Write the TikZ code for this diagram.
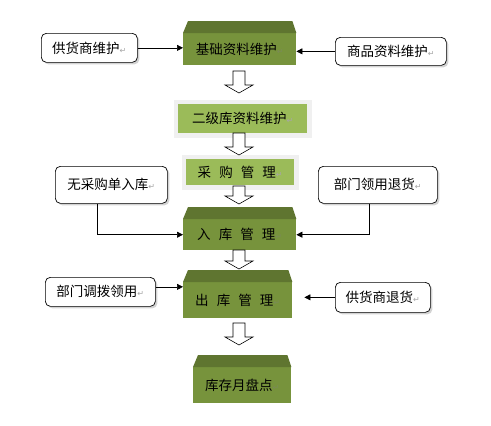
\documentclass[tikz,border=0pt]{standalone}
\usepackage{fontspec}
\newfontfamily\cjk{Noto Sans CJK SC}
\newfontfamily\dv{DejaVu Sans}
\usetikzlibrary{shadows,arrows.meta}
\definecolor{bevtop}{HTML}{5F7530}
\definecolor{bevbody}{HTML}{77933C}
\definecolor{lgreen}{HTML}{9BBB59}
\newcommand\ret{{\dv\fontsize{8}{8}\selectfont\color{gray!70}↵}}
\newcommand\retd{{\dv\fontsize{8}{8}\selectfont\color{gray!40!bevbody}↵}}
\newcommand\csp{\hspace{0.6em}}
\newcommand\harrow[3]{%
  \draw[fill=white, line width=0.6pt] (#1-6,#2) -- (#1+6,#2) -- (#1+6,#3-8) -- (#1+14,#3-8) -- (#1,#3) -- (#1-14,#3-8) -- (#1-6,#3-8) -- cycle;}
\newcommand\bevel[1]{%
  \fill[bevtop] (#1.north west) -- ([xshift=5pt,yshift=12pt]#1.north west) -- ([xshift=-4pt,yshift=12pt]#1.north east) -- (#1.north east) -- cycle;}
\begin{document}
\begin{tikzpicture}[x=1pt,y=-1pt,
  font=\cjk\fontsize{13.5}{15}\selectfont,
  bevbox/.style={fill=bevbody, inner sep=0pt, anchor=north west},
  rbox/.style={draw=black, line width=0.7pt, fill=white, rounded corners=5pt, inner sep=0pt, anchor=north west,
    drop shadow={shadow xshift=2pt, shadow yshift=-2pt, opacity=0.35}},
  lbox/.style={fill=lgreen, inner sep=0pt, anchor=north west,
    preaction={draw=gray!12, line width=9pt}},
  conn/.style={line width=0.6pt, -{Triangle[length=6pt,width=6pt]}}]
\useasboundingbox (0,0) rectangle (491,426);

% main column
\node[bevbox, minimum width=113pt, minimum height=32pt] (jc) at (183,33) {基础资料维护\retd};
\bevel{jc}
\node[lbox, minimum width=129pt, minimum height=29pt] (ej) at (178,104) {二级库资料维护\ret};
\node[lbox, minimum width=108pt, minimum height=26pt] (cg) at (186,159) {采\csp 购\csp 管\csp 理\ret};
\node[bevbox, minimum width=113pt, minimum height=31pt] (rk) at (183,219) {入\csp 库\csp 管\csp 理\retd};
\bevel{rk}
\node[bevbox, minimum width=109pt, minimum height=36pt] (ck) at (183,282) {出\csp 库\csp 管\csp 理\retd};
\bevel{ck}
\node[bevbox, minimum width=98pt, minimum height=36pt] (kc) at (193,367) {库存月盘点\retd};
\bevel{kc}

% side boxes
\node[rbox, minimum width=96pt, minimum height=29pt] (gys) at (41,33) {供货商维护\ret};
\node[rbox, minimum width=111pt, minimum height=28pt] (spzl) at (335,37) {商品资料维护\ret};
\node[rbox, minimum width=112pt, minimum height=37pt] (wcg) at (55,166) {无采购单入库\ret};
\node[rbox, minimum width=119pt, minimum height=37pt] (bm) at (318,166) {部门领用退货\ret};
\node[rbox, minimum width=110pt, minimum height=29pt] (bmdb) at (45,277) {部门调拨领用\ret};
\node[rbox, minimum width=95pt, minimum height=30pt] (gyth) at (335,282) {供货商退货\ret};

% connectors
\draw[conn] (gys.east) -- (gys.east -| jc.west);
\draw[conn] (spzl.west) -- (spzl.west -| jc.east);
\draw[conn] ([xshift=-14pt]wcg.south) |- (rk.west);
\draw[conn] ([xshift=-8.5pt]bm.south) |- (rk.east);
\draw[conn] ([yshift=5pt]bmdb.east) -- ([yshift=5pt]bmdb.east -| ck.west);
\coordinate (gyend) at ([xshift=12pt]ck.east |- gyth.west);
\draw[conn] (gyth.west) -- (gyend);

% hollow arrows
\harrow{239}{71}{93}
\harrow{239}{133}{155}
\harrow{239}{186}{204}
\harrow{239}{250}{269}
\harrow{239}{323}{345}
\end{tikzpicture}
\end{document}
